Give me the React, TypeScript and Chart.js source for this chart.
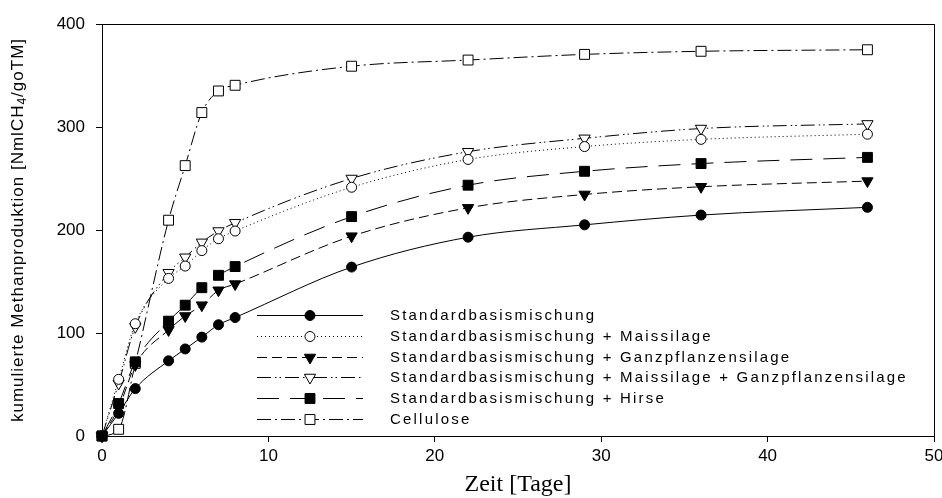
import React, { useEffect, useRef } from "react";
import { Chart, registerables } from "chart.js";

Chart.register(...registerables);

const days = [0, 1, 2, 4, 5, 6, 7, 8, 15, 22, 29, 36, 46];

const seriesLabels = [
  "Standardbasismischung",
  "Standardbasismischung + Maissilage",
  "Standardbasismischung + Ganzpflanzensilage",
  "Standardbasismischung + Maissilage + Ganzpflanzensilage",
  "Standardbasismischung + Hirse",
  "Cellulose",
];

const standard = [0, 22, 46, 73, 84.5, 96, 108, 115, 164, 193, 205, 214.5, 222];
const maissilage = [0, 55, 109, 153, 165, 180, 191.5, 199, 241.5, 268.5, 281, 288, 293];
const ganzpflanzen = [0, 27, 69, 103, 116.5, 127, 141.5, 147.5, 194, 221.5, 234.5, 242, 247.5];
const maisGanz = [0, 51, 106, 158.5, 173.5, 188, 199, 207, 250, 276, 289, 298.5, 303];
const hirse = [0, 31.5, 72, 111.5, 127, 144, 156, 164.5, 213, 243.5, 257, 264.5, 270.5];
const cellulose = [0, 6.5, 70.5, 209.5, 262.5, 314, 335, 340.5, 359, 365, 370.5, 373.5, 375];

const xTicks = [0, 10, 20, 30, 40, 50];
const yTicks = [0, 100, 200, 300, 400];

const yTitleMain = "kumulierte Methanproduktion [NmlCH";
const yTitleSub = "4";
const yTitleEnd = "/goTM]";
const xTitle = "Zeit [Tage]";

const SANS = "'Liberation Sans', Arial, sans-serif";
const SERIF = "'Liberation Serif', 'Times New Roman', serif";

type Style = {
  dash: number[];
  pointStyle: string;
  radius: number;
  filled: boolean;
  rotation: number;
};

const styles: Style[] = [
  { dash: [], pointStyle: "circle", radius: 5, filled: true, rotation: 0 },
  { dash: [1, 3], pointStyle: "circle", radius: 5, filled: false, rotation: 0 },
  { dash: [10, 5], pointStyle: "triangle", radius: 6.5, filled: true, rotation: 180 },
  { dash: [14, 4, 1.5, 3, 1.5, 4], pointStyle: "triangle", radius: 6.5, filled: false, rotation: 180 },
  { dash: [22, 11], pointStyle: "rect", radius: 7, filled: true, rotation: 0 },
  { dash: [14, 4, 2, 4], pointStyle: "rect", radius: 7, filled: false, rotation: 0 },
];

const seriesValues = [standard, maissilage, ganzpflanzen, maisGanz, hirse, cellulose];

const framePlugin = {
  id: "frame",
  beforeDatasetsDraw(chart: any) {
    const { ctx, chartArea } = chart;
    ctx.save();
    ctx.strokeStyle = "#000";
    ctx.lineWidth = 1;
    ctx.strokeRect(
      Math.round(chartArea.left) + 0.5,
      Math.round(chartArea.top) + 0.5,
      Math.round(chartArea.right - chartArea.left),
      Math.round(chartArea.bottom - chartArea.top)
    );
    ctx.restore();
  },
};

const legendPlugin = {
  id: "customLegend",
  afterDatasetsDraw(chart: any) {
    const { ctx, chartArea } = chart;
    const x0 = chartArea.left + 155;
    const x1 = chartArea.left + 261;
    const xm = (x0 + x1) / 2;
    const xt = chartArea.left + 288;
    const yStart = chartArea.bottom - 121;
    const step = 20.8;
    ctx.save();
    chart.data.datasets.forEach((ds: any, i: number) => {
      const y = Math.round(yStart + i * step) + 0.5;
      ctx.save();
      ctx.strokeStyle = "#000";
      ctx.lineWidth = 1;
      ctx.setLineDash(ds.borderDash || []);
      ctx.beginPath();
      ctx.moveTo(x0, y);
      ctx.lineTo(x1, y);
      ctx.stroke();
      ctx.restore();
      ctx.save();
      ctx.setLineDash([]);
      ctx.fillStyle = ds.pointBackgroundColor;
      ctx.strokeStyle = "#000";
      ctx.lineWidth = 1;
      (Chart as any).helpers
        ? null
        : null;
      drawMarker(ctx, ds.pointStyle, ds.pointRadius, ds.pointRotation, xm, y);
      ctx.restore();
      ctx.save();
      ctx.fillStyle = "#000";
      ctx.font = `15px ${SANS}`;
      (ctx as any).letterSpacing = "2.2px";
      ctx.textAlign = "left";
      ctx.textBaseline = "middle";
      ctx.fillText(ds.label, xt, y);
      ctx.restore();
    });
    ctx.restore();
  },
};

function drawMarker(ctx: CanvasRenderingContext2D, style: string, r: number, rot: number, x: number, y: number) {
  ctx.beginPath();
  if (style === "circle") {
    ctx.arc(x, y, r, 0, Math.PI * 2);
  } else if (style === "rect") {
    const s = Math.SQRT1_2 * r;
    ctx.rect(x - s, y - s, 2 * s, 2 * s);
  } else if (style === "triangle") {
    let rad = (rot * Math.PI) / 180;
    ctx.moveTo(x + Math.sin(rad) * r, y - Math.cos(rad) * r);
    rad += (2 * Math.PI) / 3;
    ctx.lineTo(x + Math.sin(rad) * r, y - Math.cos(rad) * r);
    rad += (2 * Math.PI) / 3;
    ctx.lineTo(x + Math.sin(rad) * r, y - Math.cos(rad) * r);
    ctx.closePath();
  }
  ctx.fill();
  ctx.stroke();
}

const yTitlePlugin = {
  id: "yTitle",
  afterDraw(chart: any) {
    const { ctx, chartArea } = chart;
    const cy = (chartArea.top + chartArea.bottom) / 2;
    const cx = 18;
    ctx.save();
    ctx.translate(cx, cy);
    ctx.rotate(-Math.PI / 2);
    ctx.fillStyle = "#000";
    ctx.textBaseline = "middle";
    ctx.textAlign = "left";
    (ctx as any).letterSpacing = "1px";
    ctx.font = `17px ${SANS}`;
    const w1 = ctx.measureText(yTitleMain).width;
    const w3 = ctx.measureText(yTitleEnd).width;
    ctx.font = `12px ${SANS}`;
    const w2 = ctx.measureText(yTitleSub).width;
    const total = w1 + w2 + w3;
    let x = -total / 2;
    ctx.font = `17px ${SANS}`;
    ctx.fillText(yTitleMain, x, 0);
    x += w1;
    ctx.font = `12px ${SANS}`;
    ctx.fillText(yTitleSub, x, 5);
    x += w2;
    ctx.font = `17px ${SANS}`;
    ctx.fillText(yTitleEnd, x, 0);
    ctx.restore();
  },
};

export default function App() {
  const ref = useRef<HTMLCanvasElement | null>(null);

  useEffect(() => {
    if (!ref.current) return;
    const datasets = seriesValues.map((vals, i) => {
      const st = styles[i];
      return {
        label: seriesLabels[i],
        data: days.map((d, j) => ({ x: d, y: vals[j] })),
        borderColor: "#000",
        borderWidth: 1,
        borderDash: st.dash,
        backgroundColor: st.filled ? "#000" : "#fff",
        pointStyle: st.pointStyle,
        pointRadius: st.radius,
        pointHoverRadius: st.radius,
        pointRotation: st.rotation,
        pointBackgroundColor: st.filled ? "#000" : "#fff",
        pointBorderColor: "#000",
        pointBorderWidth: 1,
        cubicInterpolationMode: "monotone" as const,
        fill: false,
        clip: false as any,
      };
    });

    const chart = new Chart(ref.current, {
      type: "line",
      data: { datasets: datasets as any },
      options: {
        animation: false,
        responsive: false,
        events: [],
        layout: { padding: { top: 24, right: 6, left: 0, bottom: 0 } },
        plugins: {
          legend: { display: false },
          tooltip: { enabled: false },
        },
        scales: {
          x: {
            type: "linear",
            min: 0,
            max: 50,
            afterBuildTicks: (scale: any) => {
              scale.ticks = xTicks.map((v) => ({ value: v }));
            },
            afterFit: (scale: any) => {
              scale.height = 62;
              scale.paddingLeft = 0;
              scale.paddingRight = 0;
            },
            border: { display: false },
            grid: {
              drawOnChartArea: false,
              drawTicks: true,
              tickLength: 6,
              color: "#000",
            },
            ticks: {
              color: "#000",
              font: { family: SANS, size: 17 },
              padding: 4,
              maxRotation: 0,
              autoSkip: false,
            },
            title: {
              display: true,
              text: xTitle,
              color: "#000",
              font: { family: SERIF, size: 24, lineHeight: 1 },
              padding: { top: 0, bottom: 1 },
            },
          },
          y: {
            type: "linear",
            min: 0,
            max: 400,
            afterBuildTicks: (scale: any) => {
              scale.ticks = yTicks.map((v) => ({ value: v }));
            },
            afterFit: (scale: any) => {
              scale.width = 102;
              scale.paddingTop = 0;
              scale.paddingBottom = 0;
            },
            border: { display: false },
            grid: {
              drawOnChartArea: false,
              drawTicks: true,
              tickLength: 6,
              color: "#000",
            },
            ticks: {
              color: "#000",
              font: { family: SANS, size: 17 },
              padding: 11,
              autoSkip: false,
            },
            title: { display: false },
          },
        },
      },
      plugins: [framePlugin, legendPlugin, yTitlePlugin],
    });
    return () => chart.destroy();
  }, []);

  return (
    <div style={{ position: "fixed", left: 0, top: 0, width: 942, height: 498, background: "#fff" }}>
      <canvas ref={ref} width={942} height={498} style={{ display: "block", width: 942, height: 498 }} />
    </div>
  );
}
